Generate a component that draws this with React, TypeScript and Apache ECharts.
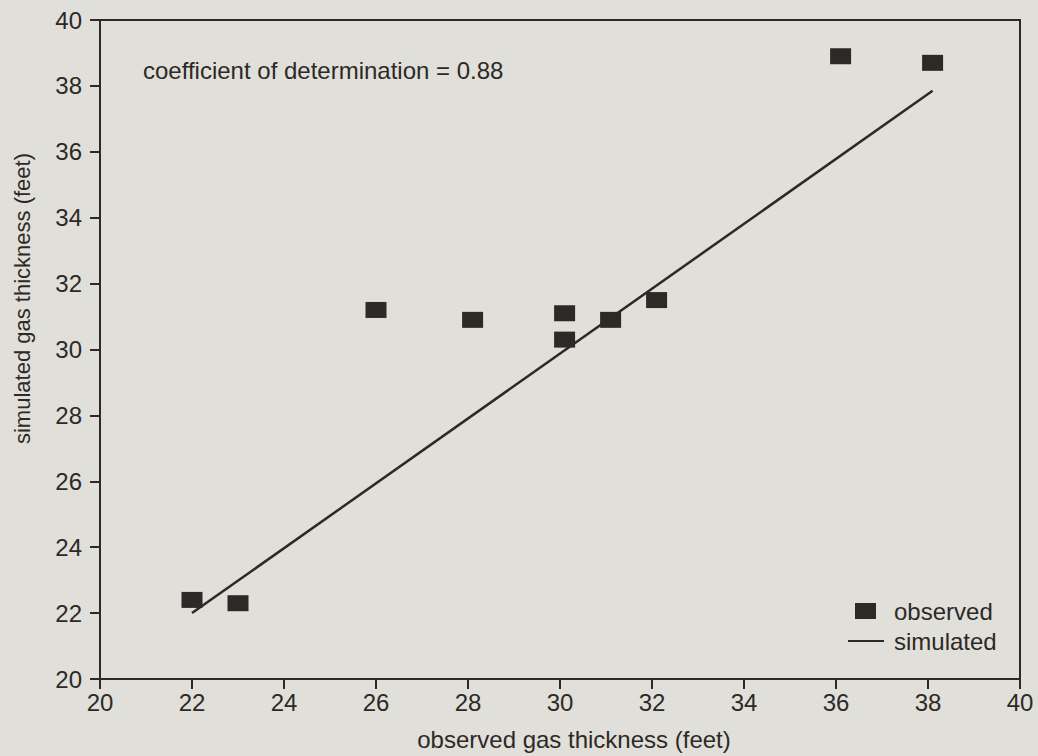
import React, { useEffect, useRef } from "react";
import * as echarts from "echarts";

const observedPoints: [number, number][] = [
  [22.0, 22.4],
  [23.0, 22.3],
  [26.0, 31.2],
  [28.1, 30.9],
  [30.1, 31.1],
  [30.1, 30.3],
  [31.1, 30.9],
  [32.1, 31.5],
  [36.1, 38.9],
  [38.1, 38.7],
];
const simulatedLine: [number, number][] = [
  [22.0, 22.0],
  [38.1, 37.85],
];
const annotation = "coefficient of determination = 0.88";
const xName = "observed gas thickness (feet)";
const yName = "simulated gas thickness (feet)";

const INK = "#2c2927";
const FONT = "'Liberation Sans', Arial, sans-serif";

export default function App() {
  const ref = useRef<HTMLDivElement>(null);
  useEffect(() => {
    if (!ref.current) return;
    const chart = echarts.init(ref.current, undefined, { renderer: "svg" });
    chart.setOption({
      animation: false,
      backgroundColor: "#e1dfd9",
      textStyle: { fontFamily: FONT, color: INK },
      grid: {
        left: 100,
        right: 18,
        top: 20,
        bottom: 75,
        show: true,
        borderColor: INK,
        borderWidth: 2,
        backgroundColor: "transparent",
      },
      xAxis: {
        type: "value",
        min: 20,
        max: 40,
        interval: 2,
        name: xName,
        nameLocation: "middle",
        nameGap: 48,
        nameTextStyle: { fontSize: 24, color: INK, fontFamily: FONT, padding: [0, 0, 0, 28] },
        axisLine: { lineStyle: { color: INK, width: 2 } },
        axisTick: { inside: false, length: 10, lineStyle: { color: INK, width: 2 } },
        axisLabel: { fontSize: 24, color: INK, margin: 11, fontFamily: FONT },
        splitLine: { show: false },
      },
      yAxis: {
        type: "value",
        min: 20,
        max: 40,
        interval: 2,
        name: yName,
        nameLocation: "middle",
        nameGap: 67,
        nameTextStyle: { fontSize: 22, color: INK, fontFamily: FONT, padding: [0, 0, 0, 102] },
        axisLine: { lineStyle: { color: INK, width: 2 } },
        axisTick: { inside: false, length: 10, lineStyle: { color: INK, width: 2 } },
        axisLabel: { fontSize: 24, color: INK, margin: 18, fontFamily: FONT },
        splitLine: { show: false },
      },
      legend: [
        {
          data: ["observed"],
          left: 850,
          top: 594,
          itemWidth: 21,
          itemHeight: 16,
          icon: "rect",
          itemStyle: { color: INK, opacity: 1 },
          textStyle: { fontSize: 24, color: INK, fontFamily: FONT, padding: [0, 0, 0, 13] },
        },
        {
          data: ["simulated"],
          left: 843,
          top: 624,
          itemWidth: 36,
          itemHeight: 2,
          icon: "rect",
          itemStyle: { color: INK, opacity: 1 },
          textStyle: { fontSize: 24, color: INK, fontFamily: FONT, padding: [0, 0, 0, 5] },
        },
      ],
      graphic: [
        {
          type: "text",
          left: 143,
          top: 58,
          style: { text: annotation, fontSize: 24, fill: INK, fontFamily: FONT },
        },
      ],
      series: [
        {
          name: "simulated",
          type: "line",
          data: simulatedLine,
          symbol: "none",
          lineStyle: { color: INK, width: 2.5 },
          z: 2,
        },
        {
          name: "observed",
          type: "scatter",
          data: observedPoints,
          symbol: "rect",
          symbolSize: [21, 16],
          itemStyle: { color: INK, opacity: 1 },
          z: 3,
        },
      ],
    });
    return () => chart.dispose();
  }, []);
  return (
    <div
      ref={ref}
      style={{ position: "fixed", left: 0, top: 0, width: 1038, height: 756 }}
    />
  );
}
